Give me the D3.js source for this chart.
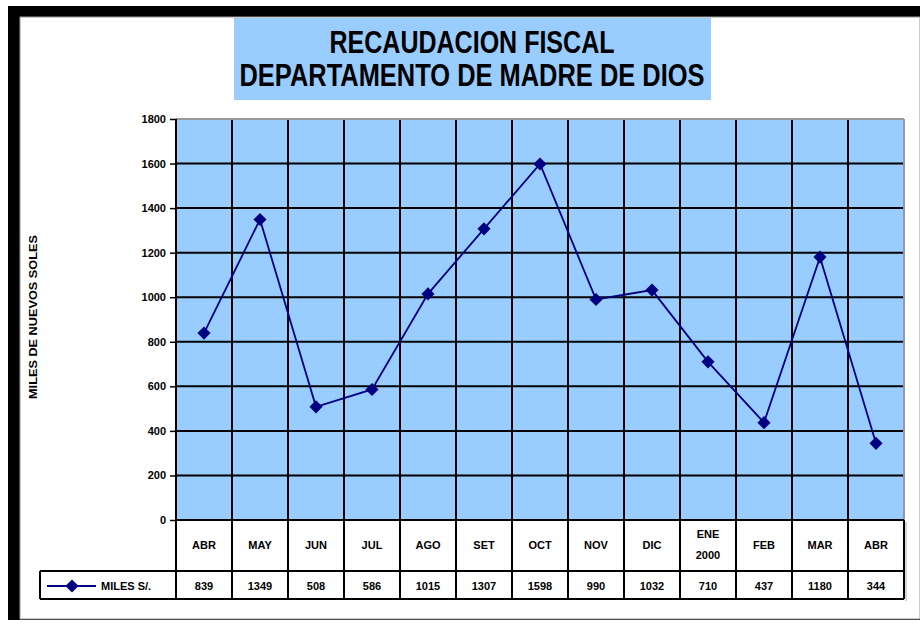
<!DOCTYPE html>
<html>
<head>
<meta charset="utf-8">
<script src="https://cdn.jsdelivr.net/npm/d3@7"></script>
<style>
  body { margin: 0; background: #fff; }
  svg text { font-family: "Liberation Sans", Arial, sans-serif; }
</style>
</head>
<body>
<svg id="chart" width="920" height="626"></svg>
<script>
const months = ["ABR", "MAY", "JUN", "JUL", "AGO", "SET", "OCT", "NOV", "DIC", "ENE\n2000", "FEB", "MAR", "ABR"];
const miles = [839, 1349, 508, 586, 1015, 1307, 1598, 990, 1032, 710, 437, 1180, 344];
const yTicks = [0, 200, 400, 600, 800, 1000, 1200, 1400, 1600, 1800];
const titleLines = ["RECAUDACION FISCAL", "DEPARTAMENTO DE MADRE DE DIOS"];
const seriesName = "MILES S/.";
const yLabel = "MILES DE NUEVOS SOLES";

const plot = { left: 176, right: 904, top: 119, bottom: 520 };
const rowCat = 571, rowVal = 599, legendLeft = 40;

const svg = d3.select("#chart");

// outer frame
svg.append("rect").attr("x", 8).attr("y", 6).attr("width", 912).attr("height", 614).attr("fill", "#000");
svg.append("rect").attr("x", 20).attr("y", 17).attr("width", 900).attr("height", 602).attr("fill", "#fff")
  .attr("stroke", "#999").attr("stroke-width", 1);

// title box
svg.append("rect").attr("x", 234).attr("y", 18).attr("width", 477).attr("height", 82).attr("fill", "#99ccff");
svg.selectAll(".title")
  .data(titleLines)
  .join("text")
  .attr("class", "title")
  .attr("x", 472)
  .attr("y", (d, i) => 53 + i * 33)
  .attr("text-anchor", "middle")
  .attr("font-family", "'Liberation Sans Narrow', 'Liberation Sans', Arial, sans-serif")
  .attr("font-size", 31)
  .attr("font-weight", "bold")
  .attr("textLength", (d, i) => (i === 0 ? 285 : 465))
  .attr("lengthAdjust", "spacingAndGlyphs")
  .text((d) => d);

const x = d3.scaleBand().domain(d3.range(months.length)).range([plot.left, plot.right]).padding(0);
const y = d3.scaleLinear().domain([0, 1800]).range([plot.bottom, plot.top]);

// plot background
svg.append("rect")
  .attr("x", plot.left).attr("y", plot.top)
  .attr("width", plot.right - plot.left).attr("height", plot.bottom - plot.top)
  .attr("fill", "#99ccff");

// horizontal gridlines
svg.selectAll(".hgrid")
  .data(yTicks.filter((d) => d > 0 && d < 1800))
  .join("line")
  .attr("class", "hgrid")
  .attr("x1", plot.left).attr("x2", plot.right)
  .attr("y1", (d) => y(d)).attr("y2", (d) => y(d))
  .attr("stroke", "#000").attr("stroke-width", 2);

// vertical lines through plot and category row
svg.selectAll(".vgrid")
  .data(d3.range(1, months.length))
  .join("line")
  .attr("class", "vgrid")
  .attr("x1", (d) => x(d)).attr("x2", (d) => x(d))
  .attr("y1", plot.top).attr("y2", rowVal)
  .attr("stroke", "#000").attr("stroke-width", 2);

// plot border: top/right gray, left black
svg.append("line").attr("x1", plot.left).attr("x2", plot.right).attr("y1", plot.top).attr("y2", plot.top)
  .attr("stroke", "#999").attr("stroke-width", 2);
svg.append("line").attr("x1", plot.right).attr("x2", plot.right).attr("y1", plot.top).attr("y2", plot.bottom)
  .attr("stroke", "#999").attr("stroke-width", 2);

// data table lines
svg.append("line").attr("x1", plot.left).attr("x2", plot.right).attr("y1", plot.bottom).attr("y2", plot.bottom)
  .attr("stroke", "#000").attr("stroke-width", 2);
svg.append("line").attr("x1", legendLeft).attr("x2", plot.right).attr("y1", rowCat).attr("y2", rowCat)
  .attr("stroke", "#000").attr("stroke-width", 2);
svg.append("line").attr("x1", legendLeft).attr("x2", plot.right).attr("y1", rowVal).attr("y2", rowVal)
  .attr("stroke", "#000").attr("stroke-width", 2);
svg.append("line").attr("x1", legendLeft).attr("x2", legendLeft).attr("y1", rowCat).attr("y2", rowVal)
  .attr("stroke", "#000").attr("stroke-width", 2);
svg.append("line").attr("x1", plot.left).attr("x2", plot.left).attr("y1", plot.top).attr("y2", rowVal)
  .attr("stroke", "#000").attr("stroke-width", 2);
svg.append("line").attr("x1", plot.right).attr("x2", plot.right).attr("y1", plot.bottom).attr("y2", rowVal)
  .attr("stroke", "#000").attr("stroke-width", 2);
svg.append("line").attr("x1", plot.right + 2).attr("x2", plot.right + 2).attr("y1", plot.bottom + 2).attr("y2", rowVal + 2)
  .attr("stroke", "#aaa").attr("stroke-width", 1);

// y axis
const yAxis = svg.append("g")
  .attr("transform", `translate(${plot.left},0)`)
  .call(d3.axisLeft(y).tickValues(yTicks).tickFormat(d3.format("d")).tickSize(6).tickPadding(4));
yAxis.select(".domain").remove();
yAxis.selectAll(".tick line").attr("stroke", "#000").attr("stroke-width", 1.5);
yAxis.selectAll("text")
  .attr("font-family", "Liberation Sans, Arial, sans-serif")
  .attr("font-size", 11).attr("font-weight", "bold").attr("fill", "#000");

svg.append("text")
  .attr("transform", "translate(37,317) rotate(-90)")
  .attr("text-anchor", "middle")
  .attr("font-size", 10).attr("font-weight", "bold")
  .attr("textLength", 164).attr("lengthAdjust", "spacingAndGlyphs")
  .text(yLabel);

// category labels
svg.selectAll(".cat")
  .data(months)
  .join("text")
  .attr("class", "cat")
  .attr("x", (d, i) => x(i) + x.bandwidth() / 2)
  .attr("y", (d) => (d.includes("\n") ? 538 : 549))
  .attr("text-anchor", "middle")
  .attr("font-size", 11).attr("font-weight", "bold")
  .each(function (d) {
    const t = d3.select(this);
    d.split("\n").forEach((part, k) => {
      t.append("tspan").attr("x", t.attr("x")).attr("dy", k === 0 ? 0 : 21).text(part);
    });
  });

// value row
svg.selectAll(".val")
  .data(miles)
  .join("text")
  .attr("class", "val")
  .attr("x", (d, i) => x(i) + x.bandwidth() / 2)
  .attr("y", 590)
  .attr("text-anchor", "middle")
  .attr("font-size", 11).attr("font-weight", "bold")
  .text((d) => d);

// series line
const line = d3.line().x((d, i) => x(i) + x.bandwidth() / 2).y((d) => y(d));
svg.append("path")
  .datum(miles)
  .attr("d", line)
  .attr("fill", "none")
  .attr("stroke", "#000080")
  .attr("stroke-width", 1.8);

const diamond = d3.symbol().type(d3.symbolDiamond2).size(110);
svg.selectAll(".pt")
  .data(miles)
  .join("path")
  .attr("class", "pt")
  .attr("transform", (d, i) => `translate(${x(i) + x.bandwidth() / 2},${y(d)})`)
  .attr("d", diamond)
  .attr("fill", "#000080");

// legend key in table
svg.append("line").attr("x1", 47).attr("x2", 96).attr("y1", 586).attr("y2", 586)
  .attr("stroke", "#000080").attr("stroke-width", 1.8);
svg.append("path").attr("transform", "translate(72,586)").attr("d", diamond).attr("fill", "#000080");
svg.append("text").attr("x", 101).attr("y", 590)
  .attr("font-size", 11).attr("font-weight", "bold")
  .text(seriesName);
</script>
</body>
</html>
